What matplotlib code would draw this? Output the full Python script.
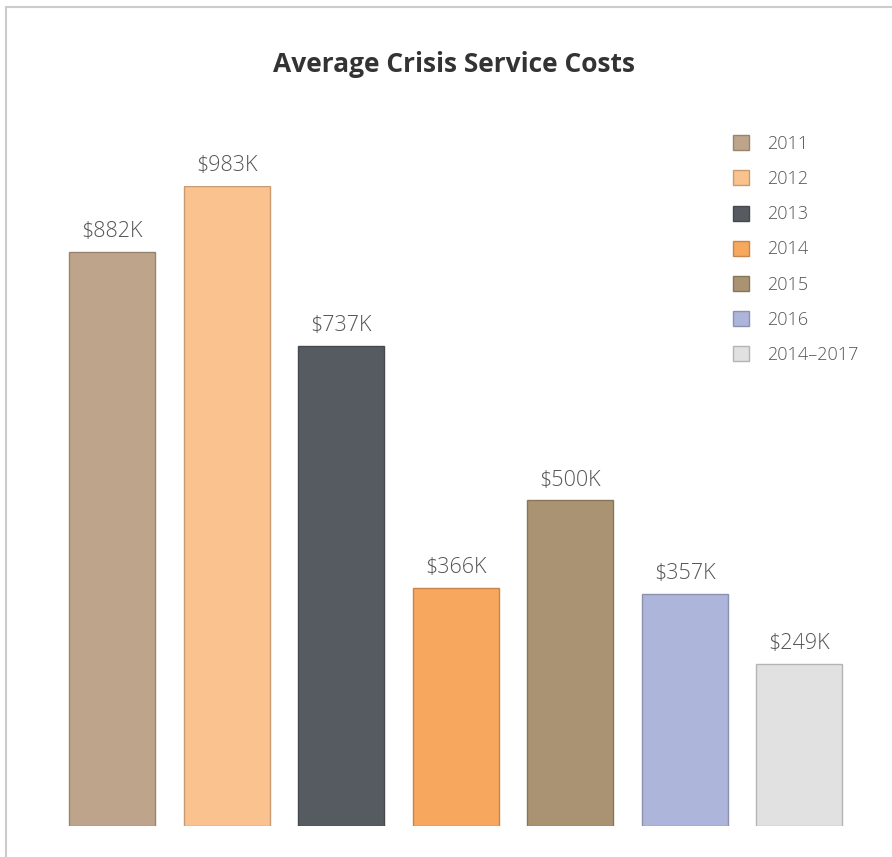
import numpy as np
import matplotlib.pyplot as plt
from matplotlib.patches import Patch
from matplotlib.lines import Line2D
from matplotlib.colors import to_rgb

# Average crisis service costs, in thousands of dollars
years = ['2011', '2012', '2013', '2014', '2015', '2016', '2014\u20132017']
costs = [882, 983, 737, 366, 500, 357, 249]
colors = ['#BEA48A', '#FAC28E', '#565B62', '#F7A75E', '#AA9372', '#AEB5DA', '#E0E1E0']

plt.rcParams['font.family'] = ['Open Sans', 'DejaVu Sans']

W, H = 892, 857
fig = plt.figure(figsize=(W / 100, H / 100), dpi=100)
fig.patch.set_facecolor('white')

# thin gray frame along the top and left edges
fig.add_artist(Line2D([6 / W, 6 / W], [0, 1 - 7 / H], color='#cccccc', lw=1.5,
                      transform=fig.transFigure))
fig.add_artist(Line2D([6 / W, 1], [1 - 7 / H, 1 - 7 / H], color='#cccccc', lw=1.5,
                      transform=fig.transFigure))

ax = fig.add_axes([0, 31 / H, 1, 640 / H])

x = np.arange(len(years))
edges = [tuple(c * 0.8 for c in to_rgb(col)) for col in colors]
bars = ax.bar(x, costs, width=0.75, color=colors, edgecolor=edges, linewidth=1)

for b, v in zip(bars, costs):
    ax.annotate(f'${v}K', (b.get_x() + b.get_width() / 2, v),
                xytext=(0, 7), textcoords='offset points',
                ha='center', va='bottom', fontsize=15.5, fontweight='light',
                color='#555555')

ax.set_xlim(-0.98, 6.81)
ax.set_ylim(0, 983)
ax.axis('off')

fig.text(454 / W, 1 - 65 / H, 'Average Crisis Service Costs', ha='center', va='center',
         fontsize=19, fontweight='bold', color='#333333')

handles = [Patch(facecolor=c, edgecolor=e, linewidth=1) for c, e in zip(colors, edges)]
fig.legend(handles, years, loc='upper left', bbox_to_anchor=(733 / W, 1 - 135 / H),
           frameon=False, handlelength=0.9, handleheight=0.9,
           handletextpad=1.0, labelspacing=0.95, borderpad=0, borderaxespad=0,
           labelcolor='#555555', prop={'weight': 'light', 'size': 13})

fig.savefig('out.png', dpi=100, facecolor='white')
